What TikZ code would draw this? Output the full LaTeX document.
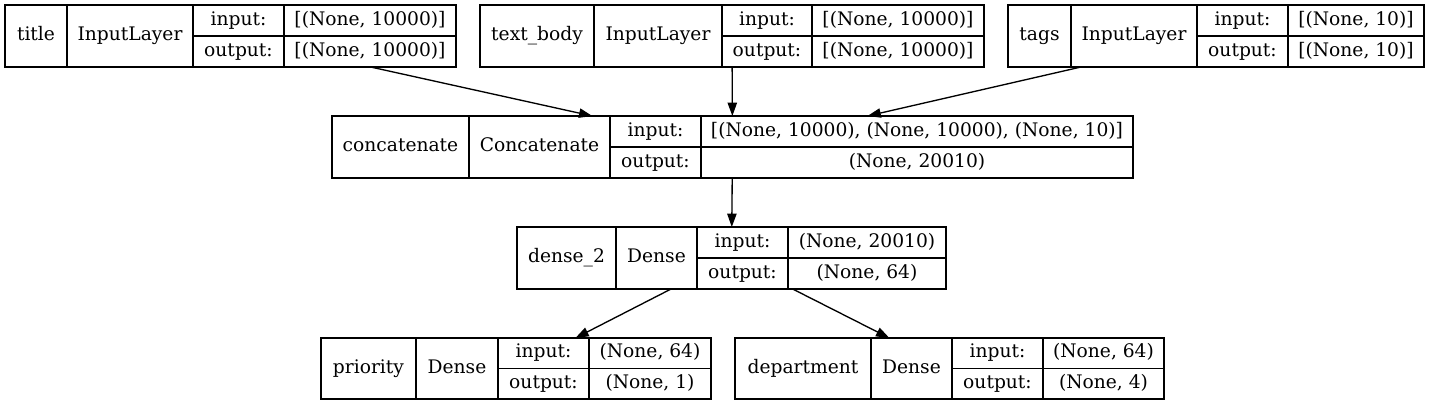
\documentclass[tikz,border=0pt]{standalone}
\usepackage{fontspec}
\setmainfont{DejaVu Serif}
\usetikzlibrary{arrows.meta}
\makeatletter
\def\kgetx#1,#2,#3,#4,#5\relax{\def\xa{#1}\def\xb{#2}\def\xc{#3}\def\xd{#4}\def\xe{#5}}
\newcommand\krow[2]{\def\yt{#1}\def\yb{#2}}
\newcommand\klayer[6]{%
  \kgetx#2\relax
  \pgfmathsetmacro\cx{(\xa+\xe)/2}%
  \pgfmathsetmacro\cy{(\yt+\yb)/2}%
  \pgfmathsetmacro\bw{\xe-\xa}%
  \pgfmathsetmacro\bh{\yb-\yt}%
  \pgfmathsetmacro\ca{(\xa+\xb)/2}%
  \pgfmathsetmacro\cb{(\xb+\xc)/2}%
  \pgfmathsetmacro\cc{(\xc+\xd)/2}%
  \pgfmathsetmacro\cd{(\xd+\xe)/2}%
  \pgfmathsetmacro\ya{(\yt+\cy)/2}%
  \pgfmathsetmacro\yc{(\cy+\yb)/2}%
  \node[layerbox, minimum width=\bw*0.75pt, minimum height=\bh*0.75pt] (#1) at (\cx,\cy) {};
  \draw[cellline] (\xb,\yt) -- (\xb,\yb);
  \draw[cellline] (\xc,\yt) -- (\xc,\yb);
  \draw[cellline] (\xd,\yt) -- (\xd,\yb);
  \draw[cellline] (\xc,\cy) -- (\xe,\cy);
  \node[celltext] (#1-name) at (\ca,\cy) {#3};
  \node[celltext] (#1-class) at (\cb,\cy) {#4};
  \node[celltext] (#1-inlabel) at (\cc,\ya) {input:};
  \node[celltext] (#1-outlabel) at (\cc,\yc) {output:};
  \node[celltext] (#1-in) at (\cd,\ya) {#5};
  \node[celltext] (#1-out) at (\cd,\yc) {#6};
}
\makeatother
\begin{document}
\begin{tikzpicture}[x=0.75pt,y=-0.75pt,
  layerbox/.style={draw=black, line width=1pt, inner sep=0pt, outer sep=0pt, rectangle},
  cellline/.style={draw=black, line width=1pt},
  celltext/.style={inner sep=0pt, text height=10pt, text depth=3pt, font=\fontsize{14}{16}\selectfont},
  arr/.style={draw=black, line width=1pt, -{Triangle[length=10pt,width=7pt]}}]
\useasboundingbox (0,0) rectangle (1429,405);
\fill[white] (0,0) rectangle (1429,405);

\krow{5}{67}
\klayer{title}{5,67,193,284,456}{title}{InputLayer}{[(None, 10000)]}{[(None, 10000)]}
\klayer{textbody}{480,594,722,812,984}{text\_body}{InputLayer}{[(None, 10000)]}{[(None, 10000)]}
\klayer{tags}{1008,1071,1197,1288,1424}{tags}{InputLayer}{[(None, 10)]}{[(None, 10)]}

\krow{116}{178}
\klayer{concat}{332,469,610,701,1133}{concatenate}{Concatenate}{[(None, 10000), (None, 10000), (None, 10)]}{(None, 20010)}

\krow{227}{289}
\klayer{dense}{517,616,697,788,946}{dense\_2}{Dense}{(None, 20010)}{(None, 64)}

\krow{338}{399}
\klayer{priority}{321,416,498,589,711}{priority}{Dense}{(None, 64)}{(None, 1)}
\klayer{department}{735,871,952,1043,1164}{department}{Dense}{(None, 64)}{(None, 4)}

\draw[arr] (title) -- (concat);
\draw[arr] (textbody) -- (concat);
\draw[arr] (tags) -- (concat);
\draw[arr] (concat) -- (dense);
\draw[arr] (dense) -- (priority);
\draw[arr] (dense) -- (department);
\end{tikzpicture}
\end{document}
